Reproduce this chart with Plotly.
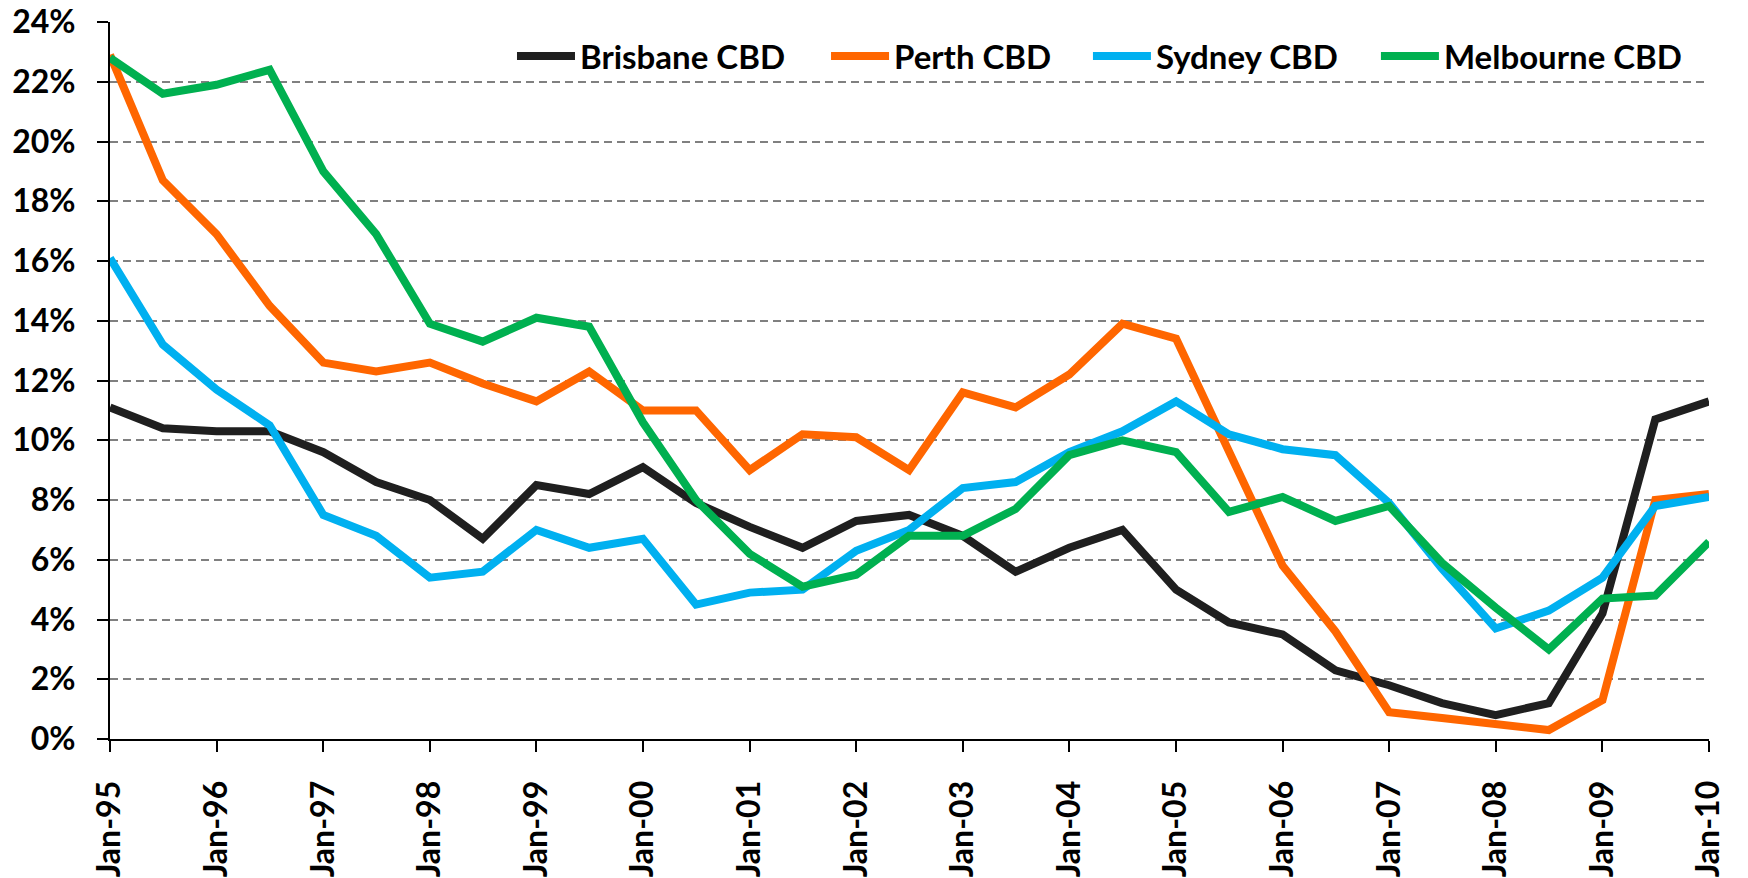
import plotly.graph_objects as go

periods = [
    "1995-01-01", "1995-07-01", "1996-01-01", "1996-07-01", "1997-01-01", "1997-07-01",
    "1998-01-01", "1998-07-01", "1999-01-01", "1999-07-01", "2000-01-01", "2000-07-01",
    "2001-01-01", "2001-07-01", "2002-01-01", "2002-07-01", "2003-01-01", "2003-07-01",
    "2004-01-01", "2004-07-01", "2005-01-01", "2005-07-01", "2006-01-01", "2006-07-01",
    "2007-01-01", "2007-07-01", "2008-01-01", "2008-07-01", "2009-01-01", "2009-07-01",
    "2010-01-01",
]

brisbane = [11.1, 10.4, 10.3, 10.3, 9.6, 8.6, 8.0, 6.7, 8.5, 8.2, 9.1, 7.9, 7.1, 6.4, 7.3, 7.5,
            6.8, 5.6, 6.4, 7.0, 5.0, 3.9, 3.5, 2.3, 1.8, 1.2, 0.8, 1.2, 4.2, 10.7, 11.3]
perth = [22.9, 18.7, 16.9, 14.5, 12.6, 12.3, 12.6, 11.9, 11.3, 12.3, 11.0, 11.0, 9.0, 10.2, 10.1, 9.0,
         11.6, 11.1, 12.2, 13.9, 13.4, 9.6, 5.8, 3.6, 0.9, 0.7, 0.5, 0.3, 1.3, 8.0, 8.2]
sydney = [16.1, 13.2, 11.7, 10.5, 7.5, 6.8, 5.4, 5.6, 7.0, 6.4, 6.7, 4.5, 4.9, 5.0, 6.3, 7.0,
          8.4, 8.6, 9.6, 10.3, 11.3, 10.2, 9.7, 9.5, 7.9, 5.7, 3.7, 4.3, 5.4, 7.8, 8.1]
melbourne = [22.8, 21.6, 21.9, 22.4, 19.0, 16.9, 13.9, 13.3, 14.1, 13.8, 10.6, 8.0, 6.2, 5.1, 5.5, 6.8,
             6.8, 7.7, 9.5, 10.0, 9.6, 7.6, 8.1, 7.3, 7.8, 5.9, 4.4, 3.0, 4.7, 4.8, 6.6]

series_names = ["Brisbane CBD", "Perth CBD", "Sydney CBD", "Melbourne CBD"]
series_colors = ["#1f1f1f", "#ff6600", "#00b0f0", "#00b050"]

x_tick_vals = ["1995-01-01", "1996-01-01", "1997-01-01", "1998-01-01", "1999-01-01", "2000-01-01",
               "2001-01-01", "2002-01-01", "2003-01-01", "2004-01-01", "2005-01-01", "2006-01-01",
               "2007-01-01", "2008-01-01", "2009-01-01", "2010-01-01"]
x_tick_text = ["Jan-95", "Jan-96", "Jan-97", "Jan-98", "Jan-99", "Jan-00", "Jan-01", "Jan-02",
               "Jan-03", "Jan-04", "Jan-05", "Jan-06", "Jan-07", "Jan-08", "Jan-09", "Jan-10"]
y_tick_vals = [0, 2, 4, 6, 8, 10, 12, 14, 16, 18, 20, 22, 24]
y_tick_text = ["0%", "2%", "4%", "6%", "8%", "10%", "12%", "14%", "16%", "18%", "20%", "22%", "24%"]

FONT = "Lato, Carlito, Calibri, 'Open Sans', sans-serif"

# one legend box per entry, placed like the reference's legend row
legend_ids = ["legend", "legend2", "legend3", "legend4"]
legend_x = [0.2514, 0.4478, 0.6116, 0.7917]

fig = go.Figure()
for name, vals, col, lid in zip(series_names, [brisbane, perth, sydney, melbourne], series_colors, legend_ids):
    fig.add_trace(go.Scatter(
        x=periods, y=vals, mode="lines", name=name,
        line=dict(color=col, width=8), legend=lid,
    ))

legend_common = dict(
    orientation="h", y=0.9526, xanchor="left", yanchor="middle",
    bgcolor="rgba(0,0,0,0)", borderwidth=0,
    font=dict(family=FONT, size=33, color="black", weight="bold"),
    itemwidth=58,
)

layout_legends = {lid: dict(legend_common, x=lx) for lid, lx in zip(legend_ids, legend_x)}

fig.update_layout(
    width=1740, height=870,
    paper_bgcolor="white", plot_bgcolor="white",
    margin=dict(l=102, r=39, t=14, b=139),
    font=dict(family=FONT, size=32, color="black"),
    showlegend=True,
    **layout_legends,
)

fig.update_xaxes(
    type="date",
    range=["1995-01-01", "2010-01-01"],
    tickmode="array", tickvals=x_tick_vals, ticktext=x_tick_text,
    tickangle=-90,
    tickfont=dict(family=FONT, size=32, color="black", weight="bold"),
    ticks="outside", ticklen=11, tickwidth=2, tickcolor="black",
    ticklabelstandoff=16, ticklabeloverflow="allow",
    showline=True, linecolor="black", linewidth=2,
    showgrid=False, zeroline=False, automargin=False,
)

fig.update_yaxes(
    range=[0, 24],
    tickmode="array", tickvals=y_tick_vals, ticktext=y_tick_text,
    tickfont=dict(family=FONT, size=32, color="black", weight="bold"),
    ticks="outside", ticklen=11, tickwidth=2, tickcolor="black",
    ticklabelstandoff=15, ticklabeloverflow="allow",
    showline=True, linecolor="black", linewidth=2,
    showgrid=True, gridcolor="#808080", gridwidth=2, griddash="8px,5px",
    zeroline=False, automargin=False,
)

fig.write_html("out.html")
